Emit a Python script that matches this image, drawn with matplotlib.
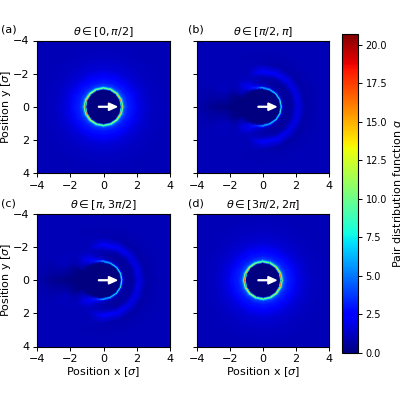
import numpy as np
import matplotlib
matplotlib.use("Agg")
import matplotlib.pyplot as plt

titles = [r"$\theta \in [0, \pi/2)$".replace(")", "]"),
          r"$\theta \in [\pi/2, \pi)$".replace(")", "]"),
          r"$\theta \in [\pi, 3\pi/2)$".replace(")", "]"),
          r"$\theta \in [3\pi/2, 2\pi)$".replace(")", "]")]
letters = ["(a)", "(b)", "(c)", "(d)"]
ticks = [-4, -2, 0, 2, 4]
cbar_ticks = [0, 2.5, 5, 7.5, 10, 12.5, 15, 17.5, 20]
g_max = 20.7

# radial sample positions of the pair distribution (sigma)
radii = [0, 0.98, 1.03, 1.08, 1.13, 1.18, 1.24, 1.32, 1.5, 1.8, 2.1, 2.3, 2.6, 3.1, 3.6, 4.2, 5.7]

# front/back panels (a, d): angle from +x in degrees, one row per angle
angles_iso = [0, 22.5, 45, 67.5, 90, 112.5, 135, 157.5, 180]
g_iso = [
    [0, 0, 0.6, 8, 17.5, 11, 5.5, 4.0, 3.2, 2.9, 2.0, 1.7, 1.4, 1.2, 1.1, 1.0, 1.0],
    [0, 0, 0.5, 7, 15.0, 10, 5.2, 3.9, 3.2, 2.8, 2.0, 1.7, 1.4, 1.2, 1.1, 1.0, 1.0],
    [0, 0, 0.4, 6, 12.5, 9, 5.0, 3.8, 3.1, 2.7, 1.9, 1.6, 1.4, 1.2, 1.1, 1.0, 1.0],
    [0, 0, 0.4, 5, 10.5, 8, 4.8, 3.7, 3.0, 2.6, 1.9, 1.6, 1.4, 1.2, 1.1, 1.0, 1.0],
    [0, 0, 0.3, 5, 10.0, 8, 4.6, 3.6, 3.0, 2.6, 1.9, 1.6, 1.4, 1.2, 1.1, 1.0, 1.0],
    [0, 0, 0.4, 5, 10.5, 8, 4.8, 3.7, 3.0, 2.6, 1.9, 1.6, 1.4, 1.2, 1.1, 1.0, 1.0],
    [0, 0, 0.4, 6, 13.0, 9, 5.0, 3.8, 3.1, 2.7, 1.9, 1.6, 1.4, 1.2, 1.1, 1.0, 1.0],
    [0, 0, 0.5, 7, 15.5, 10, 5.2, 3.9, 3.2, 2.8, 2.0, 1.7, 1.4, 1.2, 1.1, 1.0, 1.0],
    [0, 0, 0.6, 8, 18.0, 11, 5.5, 4.0, 3.2, 2.9, 2.0, 1.7, 1.4, 1.2, 1.1, 1.0, 1.0],
]

# side panels (b, c): the wake opens behind the particle
angles_side = [0, 22.5, 45, 67.5, 90, 100, 110, 120, 135, 157.5, 180]
g_side = [
    [0, 0, 0.3, 5.0, 8.0, 3.0, 1.0, 0.7, 0.6, 0.7, 1.9, 1.5, 0.8, 0.9, 1.0, 1.0, 1.0],
    [0, 0, 0.3, 5.0, 8.0, 3.0, 1.0, 0.7, 0.6, 0.7, 1.9, 1.5, 0.8, 0.9, 1.0, 1.0, 1.0],
    [0, 0, 0.3, 4.5, 7.5, 3.0, 1.0, 0.7, 0.6, 0.7, 1.9, 1.6, 0.8, 0.9, 1.0, 1.0, 1.0],
    [0, 0, 0.3, 4.5, 7.0, 3.5, 1.2, 0.8, 0.6, 0.8, 2.2, 1.7, 0.8, 0.9, 1.0, 1.0, 1.0],
    [0, 0, 0.2, 1.2, 5.0, 6.5, 2.5, 1.2, 0.8, 1.0, 2.4, 1.7, 0.9, 0.9, 1.0, 1.0, 1.0],
    [0, 0, 0, 0.4, 2.5, 5.0, 3.0, 1.5, 1.0, 1.0, 2.0, 1.5, 1.0, 0.9, 1.0, 1.0, 1.0],
    [0, 0, 0, 0.1, 0.8, 2.8, 3.6, 2.2, 1.2, 1.0, 1.3, 1.1, 1.0, 0.9, 1.0, 1.0, 1.0],
    [0, 0, 0, 0, 0.2, 0.8, 1.8, 3.0, 2.2, 1.3, 1.0, 1.0, 1.0, 1.0, 1.0, 1.0, 1.0],
    [0, 0, 0, 0, 0, 0.1, 0.3, 0.8, 1.8, 1.8, 1.2, 1.1, 1.0, 1.0, 1.0, 1.0, 1.0],
    [0, 0, 0, 0, 0, 0, 0, 0.05, 0.1, 0.3, 0.7, 1.0, 1.2, 1.1, 1.0, 1.0, 1.0],
    [0, 0, 0, 0, 0, 0, 0, 0, 0, 0, 0.05, 0.1, 0.2, 0.4, 0.7, 1.0, 1.0],
]

arrow_start, arrow_length = -0.3, 1.1


def draw_panel(ax, angles, table, flip):
    half = np.radians(angles)
    theta = np.concatenate([half, 2 * np.pi - half[-2::-1]])
    values = np.asarray(table, dtype=float)
    values = np.vstack([values, values[-2::-1]])
    rr, tt = np.meshgrid(radii, theta)
    y = rr * np.sin(tt)
    return ax.pcolormesh(rr * np.cos(tt), -y if flip else y, values, cmap="jet",
                         vmin=0, vmax=g_max, shading="gouraud")


plt.rcParams.update({"font.size": 8, "font.family": "DejaVu Sans"})
fig = plt.figure(figsize=(4, 4), dpi=100)
W = H = 400.0
boxes = [(37, 40.5, 133, 132.5), (196.7, 40.5, 132.5, 132.5),
         (37, 214, 133, 132.5), (196.7, 214, 132.5, 132.5)]
panels = [(angles_iso, g_iso), (angles_side, g_side), (angles_side, g_side), (angles_iso, g_iso)]

for i, ((x0, y0, w, h), (ang, tab)) in enumerate(zip(boxes, panels)):
    ax = fig.add_axes([x0 / W, 1 - (y0 + h) / H, w / W, h / H])
    ax.set_facecolor(plt.get_cmap("jet")(1.0 / g_max))
    mesh = draw_panel(ax, ang, tab, i == 2)
    ax.set_xlim(-4, 4)
    ax.set_ylim(4, -4)
    ax.set_xticks(ticks)
    ax.set_yticks(ticks)
    ax.tick_params(labelsize=8, length=3, width=0.7, pad=2.5)
    ax.set_title(titles[i], fontsize=8, pad=4)
    if i % 2:
        ax.set_yticklabels([])
    else:
        ax.set_ylabel(r"Position y [$\sigma$]", fontsize=8, labelpad=0)
    if i >= 2:
        ax.set_xlabel(r"Position x [$\sigma$]", fontsize=8, labelpad=1)
    ax.arrow(arrow_start, 0, arrow_length, 0, width=0.05, head_width=0.45, head_length=0.5,
             length_includes_head=True, color="white", zorder=5)
    fig.text((x0 - 37) / W + 1 / W if i % 2 == 0 else 188 / W, 1 - (y0 - 10.5) / H, letters[i],
             fontsize=8, ha="left", va="center")

cax = fig.add_axes([342 / W, 1 - 353 / H, 16 / W, 319 / H])
cb = fig.colorbar(mesh, cax=cax)
cb.set_ticks(cbar_ticks)
cb.ax.tick_params(labelsize=7, length=3, width=0.7, pad=2.5)
cb.set_label(r"Pair distribution function $g$", fontsize=8, labelpad=3)
fig.savefig("out.png", dpi=100)
